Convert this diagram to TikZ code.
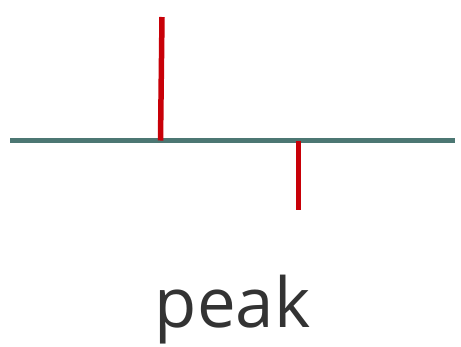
\documentclass[tikz,border=0pt]{standalone}
\usepackage{fontspec}
\setmainfont{Open Sans}
\usepackage{tikz}
\definecolor{axisteal}{HTML}{4C7773}
\definecolor{stemred}{HTML}{C80008}
\definecolor{labelgray}{HTML}{333333}

\begin{document}
\begin{tikzpicture}[x=1pt,y=-1pt,
    axis/.style={draw=axisteal,line width=5pt},
    stem/.style={draw=stemred,line width=5.5pt},
    label/.style={text=labelgray,font=\fontsize{69}{80}\selectfont,inner sep=0pt,anchor=base}]
  \useasboundingbox (0,0) rectangle (461,346);
  \coordinate (left)  at (10,140.5);
  \coordinate (right) at (455,140.5);
  \coordinate (upfoot) at (160.5,140.5);
  \coordinate (uptip)  at (162,17);
  \coordinate (downfoot) at (298.5,140.5);
  \coordinate (downtip)  at (298.5,210);
  \draw[axis] (left) -- (right);
  \draw[stem] (upfoot) -- (uptip);
  \draw[stem] (downfoot) -- (downtip);
  \node[label] (word) at (232.5,327) {peak};
\end{tikzpicture}
\end{document}
